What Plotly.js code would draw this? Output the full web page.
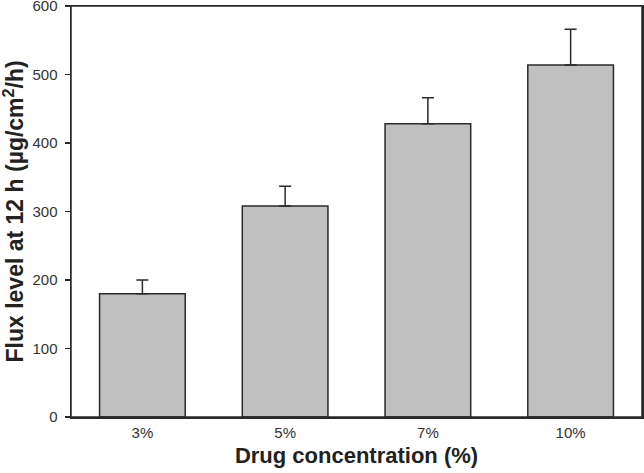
<!DOCTYPE html>
<html><head><meta charset="utf-8">
<script src="https://cdn.plot.ly/plotly-3.0.1.min.js"></script>
<style>html,body{margin:0;padding:0;background:#fff}</style>
</head><body>
<div id="chart" style="width:644px;height:473px"></div>
<script>
const categories = ["3%", "5%", "7%", "10%"];
const fluxValues = [180, 308, 428, 514];
const errorValues = [20, 29, 38, 52];
const yTicks = [0, 100, 200, 300, 400, 500, 600];
const yTitle = "Flux level at 12 h (µg/cm<sup>2</sup>/h)";
const xTitle = "Drug concentration (%)";

const trace = {
  type: "bar",
  x: categories,
  y: fluxValues,
  width: 0.6,
  marker: {color: "#c0c0c0", line: {color: "#2a2a2a", width: 1.5}},
  error_y: {type: "data", array: errorValues, arrayminus: errorValues.map(() => 0), symmetric: false,
            color: "#2a2a2a", thickness: 1.5, width: 6},
  hoverinfo: "none"
};

const fam = "Liberation Sans, Arial, sans-serif";

const layout = {
  width: 644, height: 473,
  margin: {l: 71, r: 2, t: 6, b: 56},
  paper_bgcolor: "#fff", plot_bgcolor: "#fff",
  showlegend: false,
  font: {family: fam, color: "#333"},
  xaxis: {
    type: "category",
    showline: true, linecolor: "#2a2a2a", linewidth: 1.5, mirror: true,
    ticks: "", tickfont: {size: 15, color: "#333"}, ticklabelstandoff: 1,
    title: {text: xTitle, font: {size: 22, color: "#222", family: fam, weight: "bold"}, standoff: 8},
    showgrid: false, zeroline: false
  },
  yaxis: {
    range: [0, 600], tickvals: yTicks,
    showline: true, linecolor: "#2a2a2a", linewidth: 1.5, mirror: true,
    ticks: "outside", ticklen: 5, tickwidth: 1.2, tickcolor: "#2a2a2a",
    tickfont: {size: 15, color: "#333"}, ticklabeloverflow: "allow", ticklabelstandoff: 4,
    showgrid: false, zeroline: false
  },
  annotations: [{text: yTitle, textangle: -90, xref: "paper", yref: "paper", x: 0, y: 0.5,
                 xanchor: "center", yanchor: "middle", xshift: -58, showarrow: false,
                 font: {size: 23, color: "#222", family: fam, weight: "bold"}}],
  shapes: [{type: "rect", xref: "paper", yref: "paper", x0: 0, x1: 1, y0: 0, y1: 1,
            line: {color: "#2a2a2a", width: 1.5}, fillcolor: "rgba(0,0,0,0)", layer: "above"}]
};

Plotly.newPlot("chart", [trace], layout, {displayModeBar: false, staticPlot: true});
</script>
</body></html>
